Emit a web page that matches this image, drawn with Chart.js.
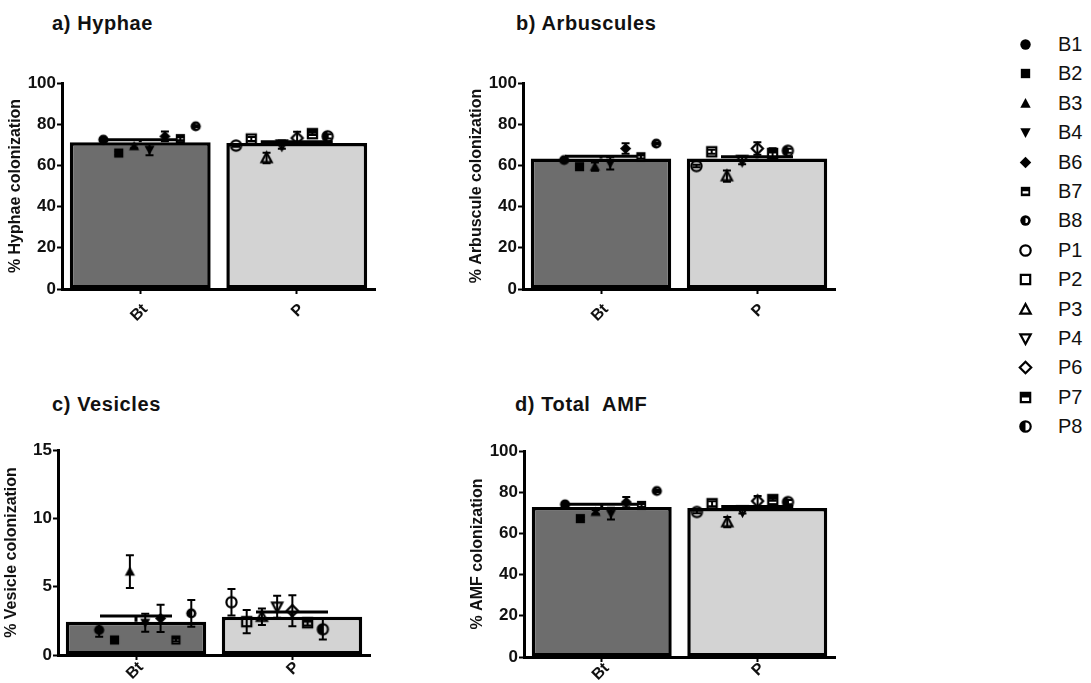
<!DOCTYPE html>
<html>
<head>
<meta charset="utf-8">
<script src="https://cdn.jsdelivr.net/npm/chart.js@4.4.1/dist/chart.umd.min.js"></script>
<style>
  html, body { margin: 0; padding: 0; background: #fff; width: 1091px; height: 683px; overflow: hidden; }
  .panel { position: absolute; }
  .ptitle { position: absolute; font: bold 20px "Liberation Sans", Arial, sans-serif; letter-spacing: 0.6px; color: #111; white-space: pre; line-height: 20px; }
  .leg { position: absolute; left: 1012px; font: 20px "Liberation Sans", Arial, sans-serif; color: #111; height: 24px; line-height: 24px; white-space: nowrap; }
  .leg canvas { position: absolute; left: 5px; top: 4px; }
  .leg span { position: absolute; left: 46px; top: 0; }
</style>
</head>
<body>
<script>
// ---------------- DATA ----------------
const categories = ['Bt', 'P'];
const samples = ['B1', 'B2', 'B3', 'B4', 'B6', 'B7', 'B8', 'P1', 'P2', 'P3', 'P4', 'P6', 'P7', 'P8'];
const sampleGroup = [0, 0, 0, 0, 0, 0, 0, 1, 1, 1, 1, 1, 1, 1];

// a) Hyphae
const hyphaeBar = [71.2, 70.9];
const hyphaeBarErr = [1.3, 0.6];
const hyphaeSample = [72.5, 66.0, 69.3, 67.6, 74.1, 73.0, 79.0, 69.6, 72.8, 63.6, 70.1, 73.3, 75.4, 74.1];
const hyphaeSampleErr = [0.6, 0.8, 1.0, 2.7, 2.4, 0.8, 0.5, 0.5, 1.0, 2.5, 2.0, 3.0, 0.6, 1.0];

// b) Arbuscules
const arbBar = [63.4, 63.4];
const arbBarErr = [1.1, 0.8];
const arbSample = [62.6, 59.4, 59.4, 61.0, 68.2, 64.2, 70.6, 59.7, 66.6, 54.8, 62.6, 68.2, 65.8, 67.1];
const arbSampleErr = [0.6, 0.6, 2.0, 3.0, 2.5, 0.8, 0.5, 0.6, 1.0, 2.7, 2.0, 3.0, 2.5, 1.0];

// c) Vesicles
const vesBar = [2.44, 2.8];
const vesBarErr = [0.41, 0.35];
const vesSample = [1.83, 1.1, 6.1, 2.36, 2.68, 1.1, 3.05, 3.86, 2.44, 2.8, 3.53, 3.24, 2.36, 1.88];
const vesSampleErr = [0.5, 0.1, 1.2, 0.65, 1.0, 0.1, 0.98, 0.97, 0.85, 0.6, 0.8, 1.13, 0.2, 0.75];

// d) Total AMF
const amfBar = [72.8, 72.3];
const amfBarErr = [1.3, 0.8];
const amfSample = [74.1, 67.2, 70.4, 69.6, 75.2, 73.6, 80.6, 70.4, 74.4, 65.5, 71.2, 75.7, 76.4, 75.2];
const amfSampleErr = [0.8, 0.8, 1.0, 2.8, 2.5, 0.8, 0.5, 0.6, 1.2, 2.5, 1.5, 2.5, 0.6, 1.0];

const hyphaeTicks = [0, 20, 40, 60, 80, 100];
const vesTicks = [0, 5, 10, 15];

// ---------------- STYLE ----------------
const FONT = '"Liberation Sans", Arial, sans-serif';
const markerShapes = ['circle', 'square', 'triUp', 'triDown', 'diamond', 'sqStripe', 'circHalfB',
                      'circle', 'square', 'triUp', 'triDown', 'diamond', 'sqHalfTop', 'circHalfL'];
const markerFilled = [true, true, true, true, true, true, true, false, false, false, false, false, false, false];

function drawMarker(ctx, shape, filled, x, y, r) {
  ctx.save();
  ctx.fillStyle = '#000';
  ctx.strokeStyle = '#000';
  ctx.lineWidth = 2.2;
  const path = () => {
    ctx.beginPath();
    if (shape === 'circle' || shape.startsWith('circ')) ctx.arc(x, y, r, 0, Math.PI * 2);
    else if (shape === 'square' || shape.startsWith('sq')) ctx.rect(x - r * 0.9, y - r * 0.9, r * 1.8, r * 1.8);
    else if (shape === 'triUp') { ctx.moveTo(x, y - r * 1.05); ctx.lineTo(x + r, y + r * 0.8); ctx.lineTo(x - r, y + r * 0.8); ctx.closePath(); }
    else if (shape === 'triDown') { ctx.moveTo(x, y + r * 1.05); ctx.lineTo(x + r, y - r * 0.8); ctx.lineTo(x - r, y - r * 0.8); ctx.closePath(); }
    else if (shape === 'diamond') { ctx.moveTo(x, y - r * 1.1); ctx.lineTo(x + r * 1.1, y); ctx.lineTo(x, y + r * 1.1); ctx.lineTo(x - r * 1.1, y); ctx.closePath(); }
  };
  if (filled) {
    path(); ctx.fill();
    if (shape === 'sqStripe') { ctx.fillStyle = '#fff'; ctx.fillRect(x - r * 0.55, y - r * 0.05, r * 1.1, r * 0.45); }
    if (shape === 'circHalfB') { ctx.fillStyle = '#fff'; ctx.beginPath(); ctx.arc(x, y, r * 0.5, -Math.PI / 2, Math.PI / 2); ctx.closePath(); ctx.fill(); }
  } else {
    if (shape === 'sqHalfTop') { ctx.fillRect(x - r * 0.9, y - r * 0.9, r * 1.8, r * 0.9); }
    if (shape === 'circHalfL') { ctx.beginPath(); ctx.arc(x, y, r, Math.PI / 2, Math.PI * 1.5); ctx.closePath(); ctx.fill(); }
    path(); ctx.stroke();
  }
  ctx.restore();
}

function markerCanvas(i, r) {
  const c = document.createElement('canvas');
  const s = Math.ceil(2 * r + 6);
  c.width = s; c.height = s;
  drawMarker(c.getContext('2d'), markerShapes[i], markerFilled[i], s / 2, s / 2, r);
  return c;
}
const pointImgs = samples.map((_, i) => markerCanvas(i, 5.1));

// horizontal spread of the sample points inside each bar (category units)
function sampleOffset(i) {
  const g = sampleGroup[i];
  const k = sampleGroup.slice(0, i).filter(v => v === g).length;
  return g === 0 ? -0.42 + k * 0.123 : -0.36 + k * 0.122;
}

// error bar plugin (uses the chart's own scales)
const errorBars = {
  id: 'errorBars',
  afterDatasetDraw(chart, args) {
    const ds = chart.data.datasets[args.index];
    if (!ds.errors) return;
    const ys = chart.scales.y;
    const ctx = chart.ctx;
    ctx.save();
    ctx.strokeStyle = '#000';
    ctx.lineCap = 'butt';
    args.meta.data.forEach((el, i) => {
      const v = ds.type === 'scatter' ? ds.data[i].y : ds.data[i];
      const e = ds.errors[i];
      const x = el.x;
      const yTop = ys.getPixelForValue(v + e);
      const yBot = ys.getPixelForValue(v - e);
      const yMid = ys.getPixelForValue(v);
      if (ds.type === 'scatter') {
        ctx.lineWidth = 2;
        ctx.beginPath();
        ctx.moveTo(x, yTop); ctx.lineTo(x, yBot);
        ctx.moveTo(x - 4, yTop); ctx.lineTo(x + 4, yTop);
        ctx.moveTo(x - 4, yBot); ctx.lineTo(x + 4, yBot);
        ctx.stroke();
      } else {
        ctx.lineWidth = 3;
        ctx.beginPath();
        ctx.moveTo(x, yMid); ctx.lineTo(x, yTop);
        ctx.moveTo(x - 36, yTop); ctx.lineTo(x + 36, yTop);
        ctx.stroke();
      }
    });
    ctx.restore();
  }
};

function makePanel(p) {
  const PADT = 15, YW = 62, XH = 48, PADR = 12;
  const c = document.createElement('canvas');
  const w = (p.R - p.A) + YW + PADR;
  const h = PADT + (p.B - p.T) + XH;
  c.width = w; c.height = h;
  c.className = 'panel';
  c.style.left = (p.A - YW) + 'px';
  c.style.top = (p.T - PADT) + 'px';
  c.style.width = w + 'px'; c.style.height = h + 'px';
  document.body.appendChild(c);

  const t = document.createElement('div');
  t.className = 'ptitle';
  t.textContent = p.title;
  t.style.left = p.tx + 'px'; t.style.top = p.ty + 'px';
  document.body.appendChild(t);

  new Chart(c, {
    type: 'bar',
    data: {
      labels: categories,
      datasets: [
        {
          type: 'bar',
          order: 1,
          grouped: false,
          data: p.bars,
          errors: p.barsErr,
          backgroundColor: ['#6d6d6d', '#d3d3d3'],
          borderColor: '#000',
          borderWidth: 3.5,
          borderSkipped: false,
          barPercentage: 0.9,
          categoryPercentage: 1.0
        },
        {
          type: 'scatter',
          xAxisID: 'x2',
          order: 0,
          data: p.pts.map((v, i) => ({ x: sampleGroup[i] + sampleOffset(i), y: v })),
          errors: p.ptsErr,
          pointStyle: pointImgs,
          pointRadius: 5,
          showLine: false
        }
      ]
    },
    options: {
      responsive: false,
      animation: false,
      devicePixelRatio: 1,
      layout: { padding: { top: PADT, right: PADR, left: 0, bottom: 0 } },
      plugins: { legend: { display: false }, tooltip: { enabled: false } },
      scales: {
        x: {
          type: 'category',
          offset: true,
          afterFit: s => { s.height = XH; },
          border: { display: true, color: '#000', width: 3 },
          grid: { display: true, drawOnChartArea: false, drawTicks: true, tickLength: 5, tickWidth: 2, tickColor: '#000', offset: false },
          ticks: { color: '#111', font: { family: FONT, size: 16, weight: 'bold' }, maxRotation: 45, minRotation: 45, autoSkip: false, padding: p.xPad, labelOffset: 5 }
        },
        x2: { type: 'linear', display: false, min: -0.5, max: 1.5 },
        y: {
          min: 0,
          max: p.ticks[p.ticks.length - 1],
          afterFit: s => { s.width = YW; },
          afterBuildTicks: s => { s.ticks = p.ticks.map(v => ({ value: v })); },
          border: { display: true, color: '#000', width: 3 },
          grid: { display: true, drawOnChartArea: false, drawTicks: true, tickLength: 5, tickWidth: 2, tickColor: '#000' },
          ticks: { color: '#111', font: { family: FONT, size: 17, weight: 'bold' }, padding: 1 },
          title: { display: true, text: p.yTitle, color: '#111', font: { family: FONT, size: 16, weight: 'bold' }, padding: { top: 6, bottom: 0 } }
        }
      }
    },
    plugins: [errorBars]
  });
}

makePanel({ title: 'a) Hyphae', tx: 52, ty: 13, yTitle: '% Hyphae colonization', A: 62, T: 83, B: 289, R: 375, xPad: 6,
  ticks: hyphaeTicks, bars: hyphaeBar, barsErr: hyphaeBarErr, pts: hyphaeSample, ptsErr: hyphaeSampleErr });
makePanel({ title: 'b) Arbuscules', tx: 516, ty: 13, yTitle: '% Arbuscule colonization', A: 523, T: 83, B: 289, R: 835, xPad: 6,
  ticks: hyphaeTicks, bars: arbBar, barsErr: arbBarErr, pts: arbSample, ptsErr: arbSampleErr });
makePanel({ title: 'c) Vesicles', tx: 52, ty: 394, yTitle: '% Vesicle colonization', A: 58, T: 450, B: 655, R: 370, xPad: -2,
  ticks: vesTicks, bars: vesBar, barsErr: vesBarErr, pts: vesSample, ptsErr: vesSampleErr });
makePanel({ title: 'd) Total  AMF', tx: 515, ty: 394, yTitle: '% AMF colonization', A: 524, T: 451, B: 657, R: 835, xPad: -3,
  ticks: hyphaeTicks, bars: amfBar, barsErr: amfBarErr, pts: amfSample, ptsErr: amfSampleErr });

// legend
samples.forEach((name, i) => {
  const d = document.createElement('div');
  d.className = 'leg';
  d.style.top = (44 + i * 29.4 - 12) + 'px';
  const mc = markerCanvas(i, 5.2);
  d.appendChild(mc);
  const s = document.createElement('span');
  s.textContent = name;
  d.appendChild(s);
  document.body.appendChild(d);
});
</script>
</body>
</html>
